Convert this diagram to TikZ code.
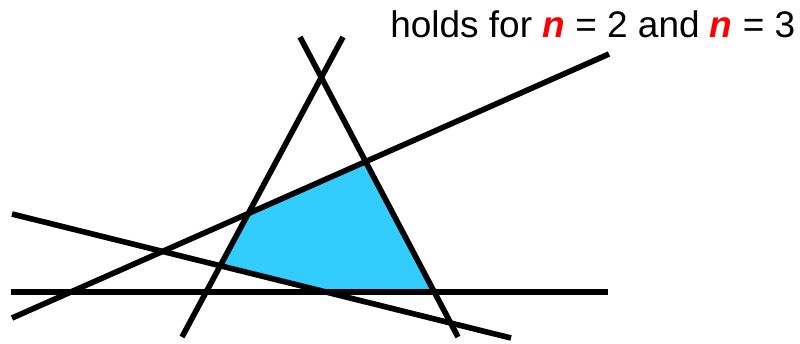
\documentclass[tikz,border=0pt]{standalone}
\usepackage{fontspec}
\setmainfont{Liberation Sans}
\definecolor{bleuzone}{RGB}{51,204,255}
\tikzset{droite/.style={line width=4pt,color=black}}
\begin{document}
\begin{tikzpicture}[x=0.025cm,y=-0.025cm]
	\useasboundingbox (0,0) rectangle (800,343);
	% Extrémités des droites
	\coordinate (h1) at (11,292);  \coordinate (h2) at (608,292);
	\coordinate (a1) at (12,318);  \coordinate (a2) at (609,54);
	\coordinate (b1) at (12,214);  \coordinate (b2) at (511,338);
	\coordinate (c1) at (182,337); \coordinate (c2) at (343,37);
	\coordinate (d1) at (300,37);  \coordinate (d2) at (458,337);
%
% Zone coloriée
	\fill[bleuzone] (intersection of a1--a2 and c1--c2) -- (intersection of a1--a2 and d1--d2)
		-- (intersection of d1--d2 and h1--h2) -- (intersection of h1--h2 and b1--b2)
		-- (intersection of b1--b2 and c1--c2) -- cycle;
% Tracé des droites
	\foreach \p in {h,a,b,c,d}{
		\draw[droite] (\p1) -- (\p2);
	};
	% Légende
	\node[anchor=base west,inner sep=0,font=\fontsize{26.3}{31}\selectfont] (titre) at (390,37)
		{holds for \textcolor{red}{\textbf{\textit{n}}} = 2 and \textcolor{red}{\textbf{\textit{n}}} = 3};
\end{tikzpicture}
\end{document}
